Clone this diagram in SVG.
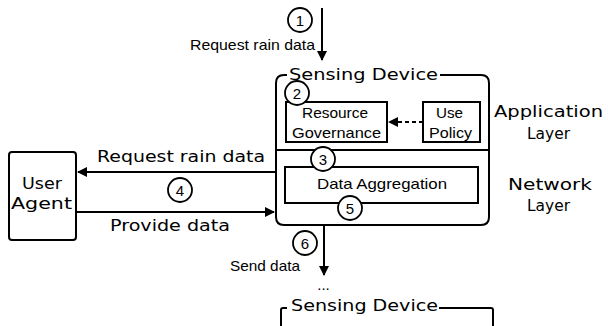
<svg xmlns="http://www.w3.org/2000/svg" width="608" height="326" viewBox="0 0 608 326">
<defs>
<marker id="ah" viewBox="0 0 10 10" refX="9" refY="5" markerWidth="5" markerHeight="5" orient="auto" markerUnits="strokeWidth"><path d="M0,0 L10,5 L0,10 z" fill="#000"/></marker>
<style>
.ln{stroke:#000;stroke-width:2;fill:none}
.bx{stroke:#000;stroke-width:2;fill:#fff}
.c{stroke:#000;stroke-width:1.8;fill:#fff}
text{fill:#000}
.s{font-family:"Liberation Sans","Open Sans",sans-serif;font-size:15px}
.w{font-family:"DejaVu Sans","Liberation Sans",sans-serif;font-size:15.5px}
.n{font-family:"Liberation Sans","Open Sans",sans-serif;font-size:15px;text-anchor:middle}
</style>
</defs>
<rect width="608" height="326" fill="#fff"/>
<g id="connectors">
<line class="ln" x1="322" y1="8" x2="322" y2="60" marker-end="url(#ah)"/>
<line class="ln" x1="423" y1="122" x2="389" y2="122" stroke-dasharray="4,3" marker-end="url(#ah)"/>
<line class="ln" x1="276" y1="172" x2="78" y2="172" marker-end="url(#ah)"/>
<line class="ln" x1="76" y1="212" x2="274" y2="212" marker-end="url(#ah)"/>
<line class="ln" x1="324" y1="225" x2="324" y2="275" marker-end="url(#ah)"/>
</g>
<g id="label-request-top"><text class="s" x="190" y="50" textLength="125" lengthAdjust="spacingAndGlyphs">Request rain data</text></g>
<g id="step1"><circle class="c" cx="300" cy="20" r="12"/><text class="n" x="300" y="25.5">1</text></g>
<g id="sensing-device">
<path class="ln" d="M287,75 H284 Q276,75 276,83 V217 Q276,225 284,225 H481 Q489,225 489,217 V83 Q489,75 481,75 H440"/>
<line class="ln" x1="276" y1="150" x2="489" y2="150"/>
<text class="w" x="289" y="80" textLength="149" lengthAdjust="spacingAndGlyphs">Sensing Device</text>
</g>
<g id="resource-governance">
<rect class="bx" x="286" y="102" width="101" height="40"/>
<text class="s" x="302" y="118" textLength="66" lengthAdjust="spacingAndGlyphs">Resource</text>
<text class="s" x="292" y="138" textLength="89" lengthAdjust="spacingAndGlyphs">Governance</text>
</g>
<g id="step2"><circle class="c" cx="297" cy="93" r="12"/><text class="n" x="297" y="98.5">2</text></g>
<g id="use-policy">
<rect class="bx" x="423" y="102" width="57" height="40"/>
<text class="s" x="436" y="118" textLength="27" lengthAdjust="spacingAndGlyphs">Use</text>
<text class="s" x="429" y="138" textLength="43" lengthAdjust="spacingAndGlyphs">Policy</text>
</g>
<g id="application-layer">
<text class="w" x="494" y="117" textLength="109" lengthAdjust="spacingAndGlyphs">Application</text>
<text class="w" x="527" y="139" textLength="43" lengthAdjust="spacingAndGlyphs">Layer</text>
</g>
<g id="data-aggregation">
<rect class="bx" x="285" y="167" width="193" height="36"/>
<text class="s" x="317" y="189" textLength="130" lengthAdjust="spacingAndGlyphs">Data Aggregation</text>
</g>
<g id="step3"><circle class="c" cx="323" cy="159" r="12"/><text class="n" x="323" y="164.5">3</text></g>
<g id="step5"><circle class="c" cx="350" cy="208" r="12"/><text class="n" x="350" y="213.5">5</text></g>
<g id="network-layer">
<text class="w" x="508" y="190" textLength="84" lengthAdjust="spacingAndGlyphs">Network</text>
<text class="w" x="527" y="211" textLength="43" lengthAdjust="spacingAndGlyphs">Layer</text>
</g>
<g id="user-agent">
<rect class="bx" x="9" y="152" width="67" height="88" rx="3"/>
<text class="w" x="22" y="189" textLength="40" lengthAdjust="spacingAndGlyphs">User</text>
<text class="w" x="11" y="209" textLength="61" lengthAdjust="spacingAndGlyphs">Agent</text>
</g>
<g id="label-request"><text class="w" x="97" y="162" textLength="168" lengthAdjust="spacingAndGlyphs">Request rain data</text></g>
<g id="step4"><circle class="c" cx="180" cy="190" r="12"/><text class="n" x="180" y="195.5">4</text></g>
<g id="label-provide"><text class="w" x="110" y="231" textLength="120" lengthAdjust="spacingAndGlyphs">Provide data</text></g>
<g id="step6"><circle class="c" cx="305" cy="243" r="12"/><text class="n" x="305" y="248.5">6</text></g>
<g id="label-send"><text class="s" x="230" y="271" textLength="70" lengthAdjust="spacingAndGlyphs">Send data</text></g>
<g id="ellipsis"><text class="s" x="323.5" y="290" text-anchor="middle">...</text></g>
<g id="sensing-device-2">
<path class="ln" d="M287,308 H283 Q281,308 281,310 V326"/>
<path class="ln" d="M439,308 H491 Q493,308 493,310 V326"/>
<text class="w" x="291" y="311" textLength="147" lengthAdjust="spacingAndGlyphs">Sensing Device</text>
</g>
</svg>
